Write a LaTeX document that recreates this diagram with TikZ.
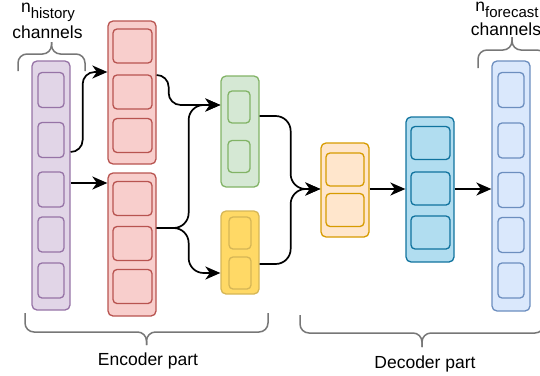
\documentclass[tikz,border=0pt]{standalone}
\usepackage{fontspec}
\setmainfont{Liberation Sans}
\usetikzlibrary{arrows.meta}

\definecolor{purpleline}{HTML}{9673A6}
\definecolor{purplefill}{HTML}{E1D5E7}
\definecolor{redline}{HTML}{B85450}
\definecolor{redfill}{HTML}{F8CECC}
\definecolor{greenline}{HTML}{82B366}
\definecolor{greenfill}{HTML}{D5E8D4}
\definecolor{yellowline}{HTML}{D6B656}
\definecolor{yellowfill}{HTML}{FFD966}
\definecolor{orangeline}{HTML}{D79B00}
\definecolor{orangefill}{HTML}{FFE6CC}
\definecolor{tealline}{HTML}{10739E}
\definecolor{tealfill}{HTML}{B1DDF0}
\definecolor{blueline}{HTML}{6C8EBF}
\definecolor{bluefill}{HTML}{DAE8FC}
\definecolor{braceline}{HTML}{777777}

\begin{document}
\begin{tikzpicture}[x=1pt,y=-1pt,
  layercol/.style 2 args={draw=#1, fill=#2, rounded corners=5pt, line width=1.3pt,
    inner sep=0pt, rectangle},
  layercell/.style 2 args={draw=#1, fill=#2, rounded corners=4pt, line width=1.3pt,
    inner sep=0pt, rectangle},
  conn/.style={draw=black, line width=1.7pt, rounded corners=12pt,
    -{Stealth[length=15pt,width=13pt,inset=4.5pt]}},
  bracket/.style={draw=braceline, line width=1.5pt, rounded corners=9pt},
  lbl/.style={font=\fontsize{17.5}{20}\selectfont, inner sep=0pt, anchor=base}]
\useasboundingbox (0,0) rectangle (540,375);
\clip (0,0) rectangle (540,375);

% ---------- input channels (purple) ----------
\node[layercol={purpleline}{purplefill}, minimum width=38pt, minimum height=249pt] (P) at (51,185.5) {};
\foreach \yy [count=\i] in {90,140,189.5,234.5,280.5}
  \node[layercell={purpleline}{purplefill}, minimum width=26pt, minimum height=35pt] (P\i) at (51,\yy) {};

% ---------- encoder, first stage (red) ----------
\node[layercol={redline}{redfill}, minimum width=48pt, minimum height=143pt] (RA) at (132,92.5) {};
\foreach \yy [count=\i] in {46,92,135.5}
  \node[layercell={redline}{redfill}, minimum width=39pt, minimum height=34pt] (RA\i) at (132.5,\yy) {};
\node[layercol={redline}{redfill}, minimum width=48pt, minimum height=143pt] (RB) at (132,244.5) {};
\foreach \yy [count=\i] in {198.5,243.5,286.5}
  \node[layercell={redline}{redfill}, minimum width=39pt, minimum height=34pt] (RB\i) at (132.5,\yy) {};

% ---------- encoder, second stage (green / yellow) ----------
\node[layercol={greenline}{greenfill}, minimum width=38pt, minimum height=111pt] (G) at (240,131.5) {};
\foreach \yy [count=\i] in {107,156.5}
  \node[layercell={greenline}{greenfill}, minimum width=22pt, minimum height=32pt] (G\i) at (239,\yy) {};
\node[layercol={yellowline}{yellowfill}, minimum width=38pt, minimum height=83pt] (Y) at (240,252.5) {};
\foreach \yy [count=\i] in {233,273}
  \node[layercell={yellowline}{yellowfill}, minimum width=22pt, minimum height=32pt] (Y\i) at (240,\yy) {};

% ---------- decoder (orange, teal) ----------
\node[layercol={orangeline}{orangefill}, minimum width=48pt, minimum height=94pt] (O) at (345,190) {};
\foreach \yy [count=\i] in {169.5,210}
  \node[layercell={orangeline}{orangefill}, minimum width=38pt, minimum height=33pt] (O\i) at (345,\yy) {};
\node[layercol={tealline}{tealfill}, minimum width=48pt, minimum height=145pt] (B) at (430,189.5) {};
\foreach \yy [count=\i] in {143,188.5,232.5}
  \node[layercell={tealline}{tealfill}, minimum width=39pt, minimum height=33pt] (B\i) at (430.5,\yy) {};

% ---------- output channels (blue) ----------
\node[layercol={blueline}{bluefill}, minimum width=38pt, minimum height=250pt] (L) at (511,186) {};
\foreach \yy [count=\i] in {90,140.5,190,235,280.5}
  \node[layercell={blueline}{bluefill}, minimum width=26pt, minimum height=35pt] (L\i) at (511,\yy) {};

% ---------- connectors ----------
\draw[conn] (P.east |- 0,152) -- ++(12,0) |- (RA.west |- 0,72);
\draw[conn] (P.east |- 0,183) -- (RB.west |- 0,183);
\draw[conn] (RA.east |- 0,75) -- ++(12,0) |- (G.west |- 0,105);
\draw[conn, rounded corners=15pt] (RB.east |- 0,228) -- ++(32,0) |- (G.west |- 0,105);
\draw[conn, rounded corners=15pt] (RB.east |- 0,228) -- ++(32,0) |- (Y.west |- 0,273);
\draw[conn, rounded corners=15pt] (G.east |- 0,116) -- ++(31,0) |- (O.west |- 0,189);
\draw[conn, rounded corners=15pt] (Y.east |- 0,264) -- ++(31,0) |- (O.west |- 0,189);
\draw[conn] (O.east |- 0,189) -- (B.west |- 0,189);
\draw[conn] (B.east |- 0,189) -- (L.west |- 0,189);

% ---------- braces ----------
\coordinate (tlTip) at (51.5,42);
\draw[bracket] (18,71) |- (51.5,54) -- (tlTip);
\draw[bracket] (85,71) |- (51.5,54) -- (tlTip);
\coordinate (trTip) at (512,37);
\draw[bracket] (478,68) |- (512,50) -- (trTip);
\draw[bracket] (546,68) |- (512,50) -- (trTip);
\coordinate (encTip) at (146.5,345);
\draw[bracket] (25,313) |- (146.5,332) -- (encTip);
\draw[bracket] (268,313) |- (146.5,332) -- (encTip);
\coordinate (decTip) at (422,347);
\draw[bracket] (300,315) |- (422,333) -- (decTip);
\draw[bracket] (544,315) |- (422,333) -- (decTip);

% ---------- labels ----------
\node[lbl] (histN) at (48,12.5) {n\raisebox{-5.5pt}{\fontsize{15}{17}\selectfont history}};
\node[lbl] (histC) at (47.5,38) {channels};
\node[lbl] (foreN) at (507,11.5) {n\raisebox{-5.5pt}{\fontsize{15}{17}\selectfont forecast}};
\node[lbl] (foreC) at (506,35) {channels};
\node[lbl] (encL) at (148,365) {Encoder part};
\node[lbl] (decL) at (425,368) {Decoder part};
\end{tikzpicture}
\end{document}
